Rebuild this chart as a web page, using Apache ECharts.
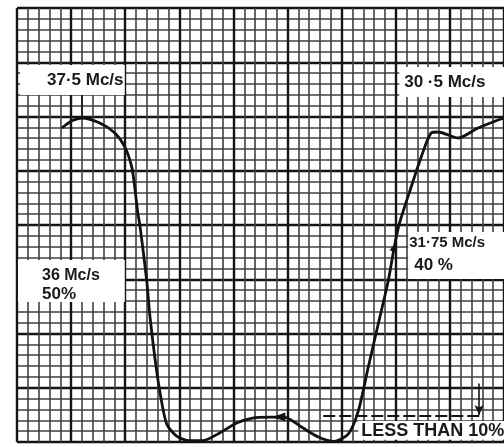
<!DOCTYPE html>
<html><head><meta charset="utf-8">
<script src="https://cdn.jsdelivr.net/npm/echarts@6/dist/echarts.min.js"></script>
<style>html,body{margin:0;padding:0;background:#fff}#c{width:504px;height:447px}</style>
</head><body><div id="c"></div>
<script>
// Response curve traced in graph-paper units (x: small squares from left edge, y: small squares from bottom)
const curveX = [4.15,5.07,5.99,7.65,9.04,9.96,10.6,10.88,11.16,11.34,11.99,12.26,12.73,13.19,13.83,14.75,15.95,17.15,18.72,20.29,21.76,23.33,24.71,26.28,27.85,29.32,30.62,31.54,32.46,33.38,34.3,34.86,35.32,36.42,37.35,38.27,38.92,40.76,42.6,44.45,45];
const curveY = [28.94,29.6,29.86,29.4,28.48,27.19,25.35,23.5,21.1,20.1,14.84,11.8,7.83,4.7,1.66,0.55,0.12,0.12,0.83,1.75,2.21,2.3,2.3,1.38,0.46,0.05,0.74,2.86,6.91,10.88,14.84,17.97,20.09,23.5,26.27,28.48,28.57,28.02,28.94,29.68,29.86];
const annotationTexts = [
  ['37·5 Mc/s'],
  ['30 ·5 Mc/s'],
  ['36 Mc/s', '50%'],
  ['31·75 Mc/s', '40 %'],
  ['LESS THAN 10%']
];
// layout of annotation boxes (grid units)
const boxes = [
  {x0:0.28,x1:9.96,y0:34.75,y1:31.98, lines:[{x:2.77,y:33.3,fs:17}]},
  {x0:35.32,x1:45.2,y0:34.56,y1:31.8, lines:[{x:35.78,y:33.15,fs:17}]},
  {x0:0.09,x1:9.96,y0:16.77,y1:12.9, lines:[{x:2.31,y:15.3,fs:16},{x:2.31,y:13.6,fs:17}]},
  {x0:36.15,x1:45.2,y0:19.35,y1:15.02, lines:[{x:36.24,y:18.4,fs:15},{x:36.7,y:16.3,fs:17}]},
  {x0:31.54,x1:45.2,y0:1.94,y1:0.2, lines:[{x:31.81,y:1.02,fs:18}]}
];

const chart = echarts.init(document.getElementById('c'), null, {renderer:'canvas'});
const data = curveX.map((x,i)=>[x,curveY[i]]);
function axis(max){
  return {type:'value',min:0,max:max,interval:5,
    axisLine:{show:false},axisTick:{show:false},axisLabel:{show:false},
    minorTick:{show:false,splitNumber:5},
    splitLine:{show:true,lineStyle:{color:'#151515',width:2.4}},
    minorSplitLine:{show:true,lineStyle:{color:'#404040',width:1.6}}};
}
chart.setOption({
  animation:false,
  grid:{left:17,top:8,width:488,height:434},
  xAxis:axis(45),
  yAxis:axis(40),
  series:[{
    type:'line',data:data,smooth:0.25,showSymbol:false,
    lineStyle:{color:'#111',width:2.8},
    z:5,
    markLine:{silent:true,symbol:['none','none'],label:{show:false},
      lineStyle:{color:'#141414',width:1.6,type:'solid'},
      data:[
        [{coord:[6,29.9]},{coord:[6,31.98]}],
        [{coord:[28.3,2.4],lineStyle:{type:[12,4],width:2}},{coord:[42.9,2.4]}],
        [{coord:[42.7,5.4],symbol:'none'},{coord:[42.7,2.5],symbol:'arrow',symbolSize:[7,10]}]
      ]},
    markPoint:{silent:true,label:{show:false},
      data:[{coord:[24.2,2.3],symbol:'triangle',symbolRotate:90,symbolSize:[9,13],itemStyle:{color:'#141414'}},
            {coord:[34.86,17.97],symbol:'triangle',symbolRotate:-18,symbolSize:[7,9],itemStyle:{color:'#141414'}}]}
  }]
});

const g = [];
boxes.forEach((b,i)=>{
  const p0 = chart.convertToPixel({gridIndex:0},[b.x0,b.y0]);
  const p1 = chart.convertToPixel({gridIndex:0},[b.x1,b.y1]);
  g.push({type:'rect',z:100,shape:{x:p0[0],y:p0[1],width:p1[0]-p0[0],height:p1[1]-p0[1]},style:{fill:'#fff'}});
  b.lines.forEach((l,j)=>{
    const p = chart.convertToPixel({gridIndex:0},[l.x,l.y]);
    g.push({type:'text',z:101,x:p[0],y:p[1],style:{text:annotationTexts[i][j],fill:'#1a1a1a',
      font:'bold '+l.fs+'px "Liberation Sans", Arial, sans-serif',textVerticalAlign:'middle',textAlign:'left'}});
  });
});
chart.setOption({graphic:g});
</script></body></html>
